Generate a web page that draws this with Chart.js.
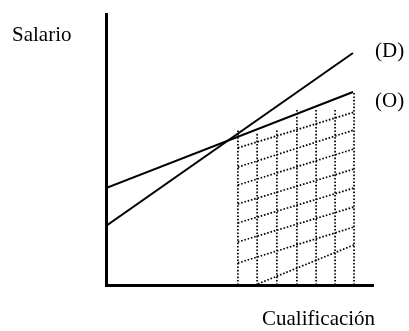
<!DOCTYPE html>
<html lang="es">
<head>
<meta charset="UTF-8">
<title>Salario y cualificación</title>
<script src="https://cdn.jsdelivr.net/npm/chart.js@4.4.1/dist/chart.umd.min.js"></script>
<style>
  html, body { margin: 0; padding: 0; background: #fff; }
  #wrap { width: 409px; height: 331px; position: relative; }
</style>
</head>
<body>
<div id="wrap"><canvas id="chart" width="409" height="331"></canvas></div>
<script>
// line ends (x, y in chart units 0..100)
const demandX = [0, 92.5];
const demandY = [21.8, 85.6];
const supplyX = [0, 92.5];
const supplyY = [35.8, 71.2];

// dotted hatch: vertical lines and their top ends
const gridX = [49.4, 56.6, 64.0, 71.5, 78.7, 85.8, 92.9];
const gridTop = [57.6, 56.5, 57.2, 64.9, 64.9, 64.9, 71.2];

// dotted hatch: slanted lines, left end (x=49.4) and right end (x=92.9)
const hatchX = [49.4, 92.9];
const hatchLeft = [50.6, 43.5, 36.9, 29.9, 22.9, 15.9, 8.1];
const hatchRight = [63.8, 57.2, 50.2, 42.8, 35.8, 28.8, 21.4];
const lowHatchX = [56.9, 92.9];
const lowHatchY = [0.4, 14.8];

const labels = ['Salario', '(D)', '(O)', 'Cualificación'];

const solid = (xs, ys) => ({
    data: xs.map((x, i) => ({ x, y: ys[i] })),
    showLine: true, borderColor: '#000', borderWidth: 2,
    pointRadius: 0, fill: false
});
const dotted = (xs, ys) => ({
    data: xs.map((x, i) => ({ x, y: ys[i] })),
    showLine: true, borderColor: '#000', borderWidth: 1.7,
    borderDash: [1.6, 1.8], pointRadius: 0, fill: false
});

const datasets = [];
gridX.forEach((x, i) => datasets.push(dotted([x, x], [0, gridTop[i]])));
hatchLeft.forEach((y, i) => datasets.push(dotted(hatchX, [y, hatchRight[i]])));
datasets.push(dotted(lowHatchX, lowHatchY));
datasets.push(solid(demandX, demandY));
datasets.push(solid(supplyX, supplyY));

// text placed in pixels
const textPlugin = {
    id: 'texts',
    afterDraw(chart) {
        const ctx = chart.ctx;
        ctx.save();
        ctx.fillStyle = '#000';
        ctx.font = '21px "Liberation Serif", "DejaVu Serif", serif';
        ctx.textBaseline = 'alphabetic';
        ctx.fillText(labels[0], 12, 41);
        ctx.fillText(labels[1], 375, 57);
        ctx.fillText(labels[2], 375, 107);
        ctx.fillText(labels[3], 262, 325);
        ctx.restore();
    }
};

new Chart(document.getElementById('chart'), {
    type: 'scatter',
    data: { datasets },
    plugins: [textPlugin],
    options: {
        responsive: false,
        animation: false,
        layout: { padding: { left: 98, top: 14, right: 36, bottom: 38 } },
        plugins: { legend: { display: false }, tooltip: { enabled: false } },
        scales: {
            x: {
                min: 0, max: 100,
                grid: { display: false },
                ticks: { display: false },
                border: { display: true, color: '#000', width: 3 }
            },
            y: {
                min: 0, max: 100,
                grid: { display: false },
                ticks: { display: false },
                border: { display: true, color: '#000', width: 3 }
            }
        }
    }
});
</script>
</body>
</html>
